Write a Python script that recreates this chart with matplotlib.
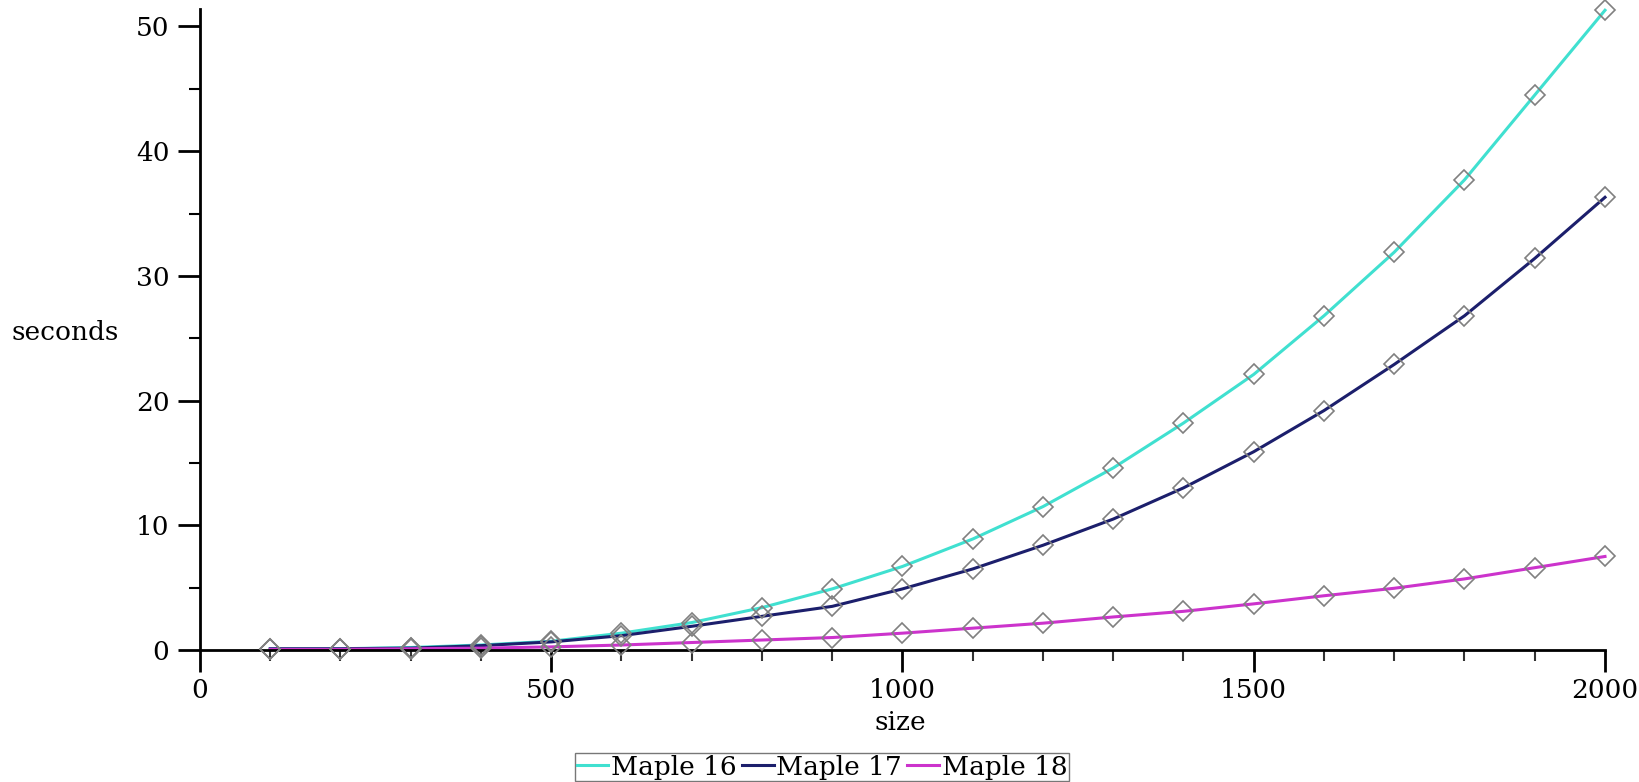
import matplotlib
matplotlib.use("Agg")
import matplotlib.pyplot as plt
from matplotlib.ticker import MultipleLocator

sizes = [100, 200, 300, 400, 500, 600, 700, 800, 900, 1000,
         1100, 1200, 1300, 1400, 1500, 1600, 1700, 1800, 1900, 2000]
maple16 = [0.1, 0.1, 0.2, 0.4, 0.7, 1.35, 2.2, 3.4, 4.9, 6.7,
           8.9, 11.5, 14.6, 18.2, 22.1, 26.8, 31.9, 37.7, 44.5, 51.3]
maple17 = [0.1, 0.1, 0.15, 0.35, 0.65, 1.15, 1.9, 2.7, 3.5, 4.9,
           6.5, 8.4, 10.5, 13.0, 15.9, 19.2, 22.9, 26.8, 31.4, 36.3]
maple18 = [0.05, 0.05, 0.1, 0.15, 0.25, 0.4, 0.6, 0.8, 1.0, 1.35,
           1.75, 2.15, 2.65, 3.1, 3.7, 4.35, 4.95, 5.7, 6.6, 7.5]
labels = ["Maple 16", "Maple 17", "Maple 18"]
colors = ["#40E0D0", "#1C1F6C", "#CC33CC"]

plt.rcParams['font.family'] = ['DejaVu Serif']
FS = 19
fig = plt.figure(figsize=(16.4, 7.82), dpi=100)
ax = fig.add_axes([200/1640, 1-650/782, 1405/1640, 641/782])

for ys, lab, c in zip([maple16, maple17, maple18], labels, colors):
    ax.plot(sizes, ys, color=c, lw=2.2, label=lab, clip_on=False, zorder=2)
for ys in [maple16, maple17, maple18]:
    ax.plot(sizes, ys, linestyle='none', marker='D', markersize=10,
            markerfacecolor='none', markeredgecolor='#808080',
            markeredgewidth=1.2, clip_on=False, zorder=3)

ax.set_xlim(0, 2000)
ax.set_ylim(0, 51.4)
for s in ['top', 'right']:
    ax.spines[s].set_visible(False)
for s in ['left', 'bottom']:
    ax.spines[s].set_linewidth(2)
ax.xaxis.set_major_locator(MultipleLocator(500))
ax.xaxis.set_minor_locator(MultipleLocator(100))
ax.yaxis.set_major_locator(MultipleLocator(10))
ax.yaxis.set_minor_locator(MultipleLocator(5))
ax.tick_params(which='major', length=16, width=2, labelsize=FS, pad=6)
ax.tick_params(which='minor', length=8, width=1.5)
ax.tick_params(axis='x', which='minor', colors='#333333')
ax.tick_params(axis='x', which='major', pad=4)

fig.text(900/1640, 1-722/782, "size", ha='center', va='center', fontsize=FS)
fig.text(65/1640, 1-333/782, "seconds", ha='center', va='center', fontsize=FS)

leg = fig.legend(loc='center', bbox_to_anchor=(822/1640, 1-767/782), ncol=3,
                 fontsize=FS, frameon=True, fancybox=False, edgecolor='#555555',
                 handlelength=1.2, handletextpad=0.1, columnspacing=0.2,
                 borderpad=0.05, borderaxespad=0)
leg.get_frame().set_linewidth(1)

fig.savefig("out.png", dpi=100)
